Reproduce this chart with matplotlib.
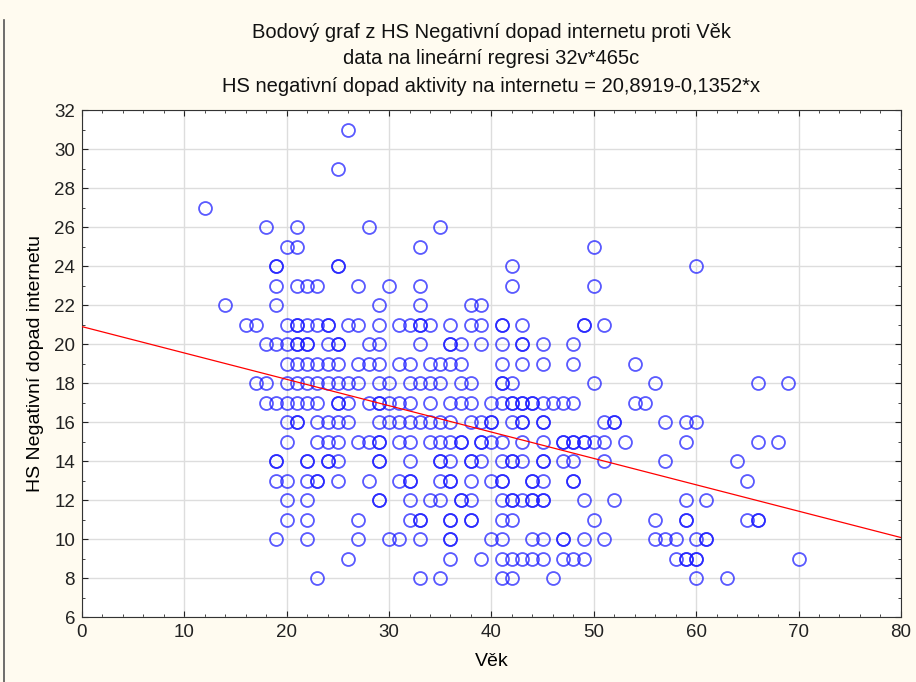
import numpy as np
import matplotlib
matplotlib.use("Agg")
import matplotlib.pyplot as plt
from matplotlib.lines import Line2D
from matplotlib.ticker import MultipleLocator

plt.rcParams['font.family'] = ['Liberation Sans', 'DejaVu Sans']

# ages (Vek) for each score value of HS Negativni dopad internetu
ages_31 = [26]
ages_29 = [25]
ages_27 = [12]
ages_26 = [18, 21, 28, 35]
ages_25 = [20, 21, 33, 50]
ages_24 = [19, 19, 25, 25, 42, 60]
ages_23 = [19, 21, 22, 23, 27, 30, 33, 42, 50]
ages_22 = [14, 19, 29, 33, 38, 39]
ages_21 = [16, 17, 20, 21, 21, 22, 23, 24, 24, 26, 27, 29, 31, 32, 33, 33, 34,
           36, 38, 39, 41, 41, 43, 49, 49, 51]
ages_20 = [18, 19, 20, 21, 21, 22, 22, 24, 25, 25, 28, 29, 33, 36, 36, 37, 39,
           41, 43, 43, 45, 48]
ages_19 = [20, 21, 22, 23, 24, 25, 27, 28, 29, 31, 32, 34, 35, 36, 37, 41, 43,
           45, 48, 54]
ages_18 = [17, 18, 20, 21, 22, 23, 24, 25, 26, 27, 29, 30, 32, 33, 34, 35, 37,
           38, 41, 41, 42, 50, 56, 66, 69]
ages_17 = [18, 19, 20, 21, 22, 23, 25, 25, 26, 28, 29, 29, 30, 31, 32, 34, 36,
           37, 38, 40, 41, 42, 42, 43, 43, 44, 44, 45, 46, 47, 48, 54, 55]
ages_16 = [20, 21, 21, 23, 24, 25, 26, 29, 30, 31, 32, 33, 34, 35, 36, 38, 39,
           40, 40, 42, 43, 43, 45, 45, 51, 52, 52, 57, 59, 60]
ages_15 = [20, 23, 24, 25, 27, 28, 29, 29, 31, 32, 34, 35, 36, 37, 37, 39, 39,
           40, 41, 43, 45, 47, 47, 48, 48, 49, 49, 50, 51, 53, 59, 66, 68]
ages_14 = [19, 19, 22, 22, 24, 24, 25, 29, 29, 32, 35, 35, 36, 38, 38, 39, 41,
           42, 42, 43, 45, 45, 47, 48, 51, 57, 64]
ages_13 = [19, 20, 22, 23, 23, 25, 28, 31, 32, 32, 35, 36, 36, 38, 40, 41, 41,
           44, 44, 45, 48, 48, 65]
ages_12 = [20, 22, 29, 29, 32, 34, 35, 37, 37, 38, 41, 42, 42, 43, 44, 44, 45,
           45, 49, 52, 59, 61]
ages_11 = [20, 22, 27, 32, 33, 33, 36, 36, 38, 38, 41, 42, 50, 56, 59, 59, 65,
           66, 66]
ages_10 = [19, 22, 27, 30, 31, 33, 36, 36, 40, 41, 44, 45, 47, 47, 49, 51, 56,
           57, 58, 60, 61, 61]
ages_9 = [26, 36, 39, 41, 42, 43, 44, 45, 47, 48, 49, 58, 59, 59, 60, 60, 70]
ages_8 = [23, 33, 35, 41, 42, 46, 60, 63]

scores = [31, 29, 27, 26, 25, 24, 23, 22, 21, 20, 19, 18, 17, 16, 15, 14, 13,
          12, 11, 10, 9, 8]
age_rows = [ages_31, ages_29, ages_27, ages_26, ages_25, ages_24, ages_23,
            ages_22, ages_21, ages_20, ages_19, ages_18, ages_17, ages_16,
            ages_15, ages_14, ages_13, ages_12, ages_11, ages_10, ages_9, ages_8]

intercept = 20.8919
slope = -0.1352

vek = []
hs = []
for s, row in zip(scores, age_rows):
    vek += row
    hs += [s] * len(row)

fig = plt.figure(figsize=(9.16, 6.82), dpi=100)
fig.patch.set_facecolor('#fffbf0')
ax = fig.add_axes([0.0895, 0.0953, 0.894, 0.7434])
ax.set_facecolor('white')

ax.plot(vek, hs, linestyle='none', marker='o', markersize=9.3,
        markerfacecolor='none', markeredgecolor=(0.1, 0.1, 1.0, 0.72),
        markeredgewidth=1.3, zorder=3)

xl = np.array([0, 80])
ax.plot(xl, intercept + slope * xl, color='red', lw=0.9, zorder=4)

ax.set_xlim(0, 80)
ax.set_ylim(6, 32)
ax.xaxis.set_major_locator(MultipleLocator(10))
ax.xaxis.set_minor_locator(MultipleLocator(2))
ax.yaxis.set_major_locator(MultipleLocator(2))
ax.yaxis.set_minor_locator(MultipleLocator(1))
ax.tick_params(which='both', direction='in', top=True, right=True,
               labelsize=13.5, colors='#222222', pad=5)
ax.tick_params(which='major', length=4)
ax.tick_params(which='minor', length=2.5)
ax.grid(which='major', color='#dddddd', lw=1)
ax.set_axisbelow(True)
for sp in ax.spines.values():
    sp.set_color('#333333')

ax.set_xlabel('Věk', fontsize=14, labelpad=9)
ax.set_ylabel('HS Negativní dopad internetu', fontsize=14, labelpad=7)

titles = ['Bodový graf z HS Negativní dopad internetu proti Věk',
          'data na lineární regresi 32v*465c',
          'HS negativní dopad aktivity na internetu = 20,8919-0,1352*x']
for i, t in enumerate(titles):
    fig.text(0.5365, 1 - (32 + 27 * i) / 682, t, ha='center', va='center',
             fontsize=14.5, color='#111111')

fig.add_artist(Line2D([0.004, 0.004], [0, 0.97], color='#555555', lw=1.2))

fig.savefig('out.png', dpi=100, facecolor=fig.get_facecolor())
